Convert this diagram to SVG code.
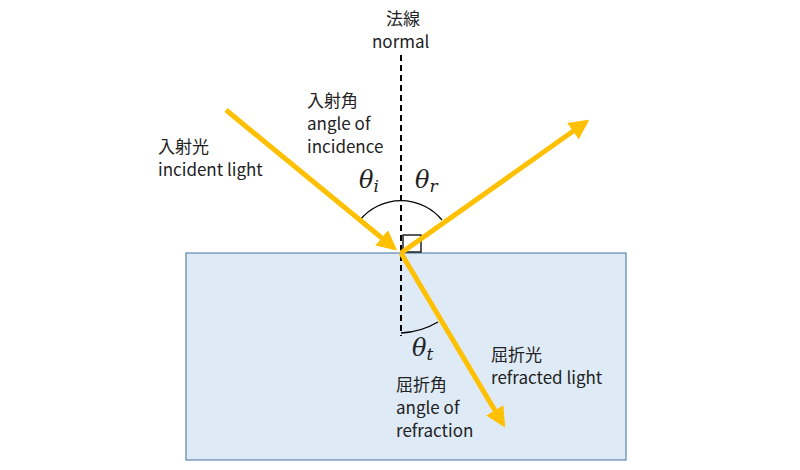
<svg xmlns="http://www.w3.org/2000/svg" width="800" height="470" viewBox="0 0 800 470">
<style>
.t{font-family:"Noto Sans CJK JP","Noto Sans",sans-serif;font-size:17px;fill:#222}
.th{font-family:"DejaVu Serif","Liberation Serif",serif;font-style:italic;font-size:24px;fill:#222}
.ray{stroke:#FFC000;stroke-width:5;fill:none}
.thin{stroke:#000;stroke-width:1.3;fill:none}
</style>
<defs><marker id="a" viewBox="0 0 10 10" refX="8" refY="5" markerWidth="4" markerHeight="4" orient="auto" markerUnits="strokeWidth"><path d="M0,0L10,5L0,10z" fill="#FFC000"/></marker></defs>
<g id="medium"><rect x="186" y="253" width="440" height="207" fill="#DEEAF6" stroke="#41719C" stroke-width="1"/></g>
<g id="connectors">
<line x1="401" y1="55" x2="401" y2="336" stroke="#000" stroke-width="2" stroke-dasharray="6,4"/>
<path class="thin" d="M360,220 A53,53 0 0 1 442,220"/>
<path class="thin" d="M401,333 A80,80 0 0 0 438,322"/>
<rect x="403" y="235" width="18" height="17" class="thin"/>
<line class="ray" x1="226" y1="110" x2="394" y2="248" marker-end="url(#a)"/>
<line class="ray" x1="401" y1="253" x2="586" y2="122" marker-end="url(#a)"/>
<line class="ray" x1="401" y1="253" x2="503" y2="424" marker-end="url(#a)"/>
</g>
<g id="labels">
<text class="t" x="386" y="25">法線</text>
<text class="t" x="372" y="48">normal</text>
<text class="t" x="307" y="107">入射角</text>
<text class="t" x="307" y="130">angle of</text>
<text class="t" x="307" y="153">incidence</text>
<text class="t" x="158" y="153">入射光</text>
<text class="t" x="158" y="176">incident light</text>
<text class="th" x="359" y="188">θ<tspan font-size="17" dy="4">i</tspan></text>
<text class="th" x="415" y="188">θ<tspan font-size="17" dy="4">r</tspan></text>
<text class="th" x="412" y="356">θ<tspan font-size="17" dy="4">t</tspan></text>
<text class="t" x="491" y="361">屈折光</text>
<text class="t" x="491" y="384">refracted light</text>
<text class="t" x="396" y="391">屈折角</text>
<text class="t" x="396" y="414">angle of</text>
<text class="t" x="396" y="437">refraction</text>
</g>
</svg>
